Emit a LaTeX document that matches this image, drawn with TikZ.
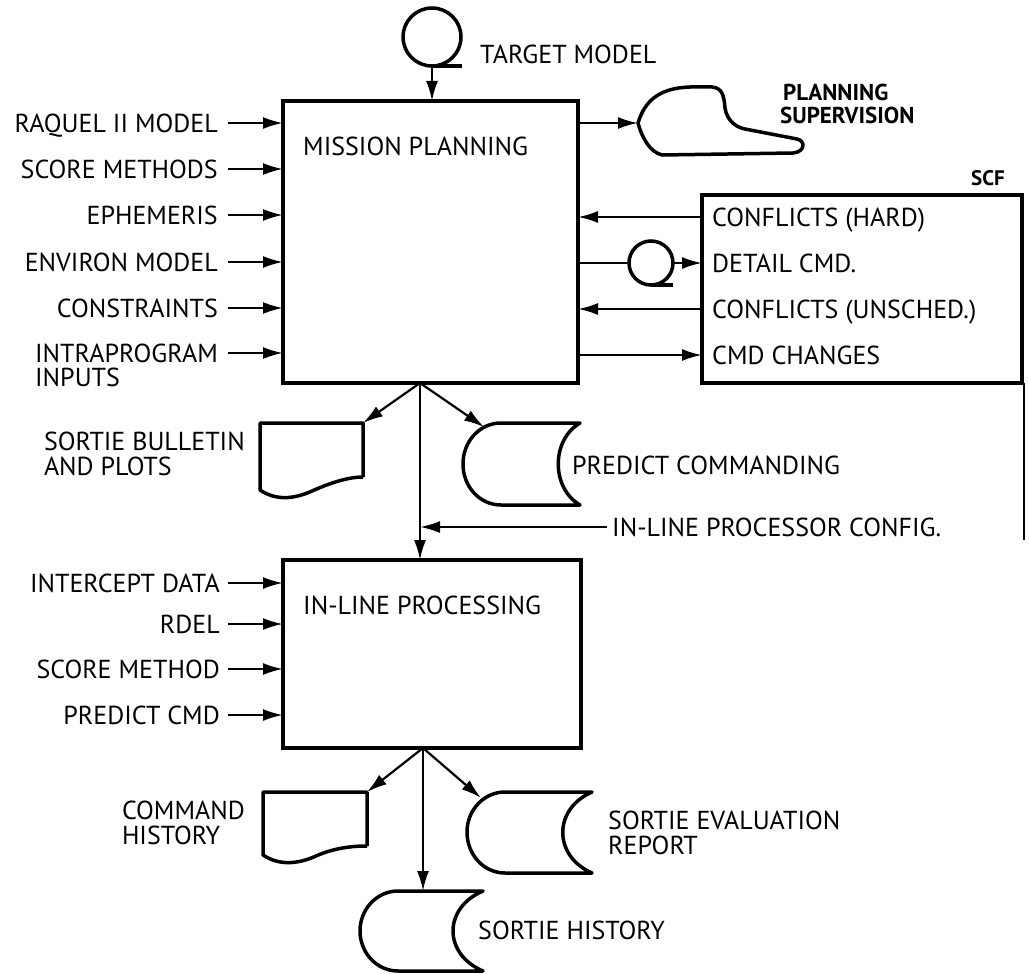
\documentclass[tikz,border=0pt]{standalone}
\usepackage{fontspec}
\setmainfont{PT Sans}
\usetikzlibrary{arrows.meta}
\begin{document}
\begin{tikzpicture}[x=1pt,y=-1pt,
  lbl/.style={font=\fontsize{26}{28}\selectfont, inner sep=0pt, text height=18pt, text depth=0pt},
  boldlbl/.style={lbl, font=\bfseries\fontsize{23}{24}\selectfont, text height=16pt},
  box/.style={draw, line width=3.5pt, inner sep=0pt, outer sep=0pt},
  shp/.style={draw, line width=3.5pt, line join=round},
  ln/.style={line width=2.2pt},
  conn/.style={ln, -{Latex[length=20pt,width=12pt]}},
]
\useasboundingbox[fill=white] (0,0) rectangle (1029,974);

% ---------------- Mission planning box
\node[box, anchor=north west, minimum width=295pt, minimum height=282pt] (mp) at (283,101) {};
\node[lbl, anchor=west] (mpt) at (303,146) {MISSION PLANNING};

% target model tape
\node[circle, draw, line width=3.5pt, minimum size=58pt, inner sep=0pt, outer sep=0pt] (tp1) at (432,37) {};
\draw[line width=3.5pt] (tp1.south) -- ++(30,0);
\draw[conn] (tp1.south) -- (tp1.south |- mp.north);
\node[lbl, anchor=west] (tgt) at (480,55) {TARGET MODEL};

% left inputs
\node[lbl, anchor=east] (raq) at (218,123) {RAQUEL II MODEL};
\node[lbl, anchor=east] (scm) at (218,169) {SCORE METHODS};
\node[lbl, anchor=east] (eph) at (218,215) {EPHEMERIS};
\node[lbl, anchor=east] (env) at (218,262) {ENVIRON MODEL};
\node[lbl, anchor=east] (con) at (218,308) {CONSTRAINTS};
\node[lbl, anchor=east] (intr) at (218,353) {INTRAPROGRAM};
\node[lbl, anchor=north west] (inp) at ([yshift=-6pt]intr.south west) {INPUTS};
\foreach \n in {raq,scm,eph,env,con,intr}{
  \draw[conn] ([xshift=10pt]\n.east) -- (\n.east -| mp.west);
}

% planning supervision
\coordinate (psl) at (638,123);
\draw[shp] (psl) .. controls (645,100) and (660,88) .. (690,87) -- (712,87)
  .. controls (722,88) and (724,95) .. (725,108)
  .. controls (727,120) and (735,127) .. (745,129) -- (797,139)
  .. controls (806,141) and (805,152) .. (793,153) -- (662,155)
  .. controls (650,152) and (642,138) .. (psl) -- cycle;
\draw[conn] (mp.east |- psl) -- (psl);
\node[boldlbl, anchor=west] (psa) at (783,92) {PLANNING};
\node[boldlbl, anchor=west] (psb) at (780,115) {SUPERVISION};

% SCF box
\node[box, anchor=north west, minimum width=320pt, minimum height=188pt] (scf) at (702,195) {};
\node[font=\bfseries\fontsize{21}{22}\selectfont, inner sep=0pt] (scft) at (988,178) {SCF};
\node[lbl, anchor=west] (hard) at (712,217) {CONFLICTS (HARD)};
\node[lbl, anchor=west] (det) at (712,263) {DETAIL CMD.};
\node[lbl, anchor=west] (uns) at (712,309) {CONFLICTS (UNSCHED.)};
\node[lbl, anchor=west] (cmdc) at (712,355) {CMD CHANGES};
\draw[conn] (scf.west |- hard) -- (mp.east |- hard);
\node[circle, draw, line width=3.5pt, minimum size=44pt, inner sep=0pt, outer sep=0pt] (tp2) at (651,263) {};
\draw[line width=3.5pt] (tp2.south) -- ++(22,0);
\draw[ln] (mp.east |- tp2) -- (tp2.west);
\draw[conn] (tp2.east) -- (tp2.east -| scf.west);
\draw[conn] (scf.west |- uns) -- (mp.east |- uns);
\draw[conn] (mp.east |- cmdc) -- (scf.west |- cmdc);
\coordinate (scfe) at (1025,540);
\draw[line width=2.5pt] ([xshift=2pt]scf.south east) -- ([xshift=2pt]scf.south east |- scfe);

% outputs of mission planning
\coordinate (f1) at (420,383);
\coordinate (d1) at (363,423);
\draw[shp] (363,477) -- (d1) -- (260,423) -- (260,490)
  .. controls (275,500) and (292,500) .. (312,491)
  .. controls (330,483) and (348,477) .. (363,477);
\node[lbl, anchor=east] (sb1) at (245,441) {SORTIE BULLETIN};
\node[lbl, anchor=west] (sb2) at (sb1.west |- 0,466) {AND PLOTS};

\coordinate (s1) at (484,427);
\draw[shp] (580,423) -- (501,423) .. controls (480,423) and (463,441) .. (463,464)
  .. controls (463,487) and (480,505) .. (501,505) -- (580,505)
  .. controls (551,488) and (551,440) .. (580,423) -- cycle;
\node[lbl, anchor=west] (pc) at (572,465) {PREDICT COMMANDING};

\draw[conn] (f1) -- (d1);
\draw[conn] (f1) -- (s1);

% in-line processing box
\node[box, anchor=north west, minimum width=298pt, minimum height=188pt] (ilp) at (283,560) {};
\node[lbl, anchor=west] (ilpt) at (303,605) {IN-LINE PROCESSING};
\draw[conn] (f1) -- (f1 |- ilp.north);
\node[lbl, anchor=west] (cfg) at (612,527) {IN-LINE PROCESSOR CONFIG.};
\coordinate (jn) at (420,527);
\draw[conn] ([xshift=-5pt]cfg.west) -- (jn);

\node[lbl, anchor=east] (icd) at (220,583) {INTERCEPT DATA};
\node[lbl, anchor=east] (rdel) at (220,624) {RDEL};
\node[lbl, anchor=east] (scm2) at (220,669) {SCORE METHOD};
\node[lbl, anchor=east] (pcmd) at (220,715) {PREDICT CMD};
\foreach \n in {icd,rdel,scm2,pcmd}{
  \draw[conn] ([xshift=8pt]\n.east) -- (\n.east -| ilp.west);
}

% outputs of in-line processing
\coordinate (f2) at (423,748);
\coordinate (d2) at (367,792);
\draw[shp] (367,846) -- (d2) -- (263,792) -- (263,855)
  .. controls (278,865) and (296,865) .. (316,856)
  .. controls (334,848) and (352,846) .. (367,846);
\node[lbl, anchor=east] (ch1) at (245,810) {COMMAND};
\node[lbl, anchor=west] (ch2) at (ch1.west |- 0,835) {HISTORY};

\coordinate (s2) at (481,798);
\draw[shp] (592,792) -- (505,792) .. controls (484,792) and (467,810) .. (467,832)
  .. controls (467,855) and (484,873) .. (505,873) -- (592,873)
  .. controls (553,856) and (553,809) .. (592,792) -- cycle;
\node[lbl, anchor=west] (se1) at (608,820) {SORTIE EVALUATION};
\node[lbl, anchor=west] (se2) at (608,845) {REPORT};

\coordinate (s3) at (423,891);
\draw[shp] (483,891) -- (398,891) .. controls (377,891) and (360,909) .. (360,931)
  .. controls (360,953) and (377,971) .. (398,971) -- (483,971)
  .. controls (443,954) and (443,908) .. (483,891) -- cycle;
\node[lbl, anchor=west] (sh) at (478,930) {SORTIE HISTORY};

\draw[conn] (f2) -- (d2);
\draw[conn] (f2) -- (s2);
\draw[conn] (f2) -- (s3);
\end{tikzpicture}
\end{document}
